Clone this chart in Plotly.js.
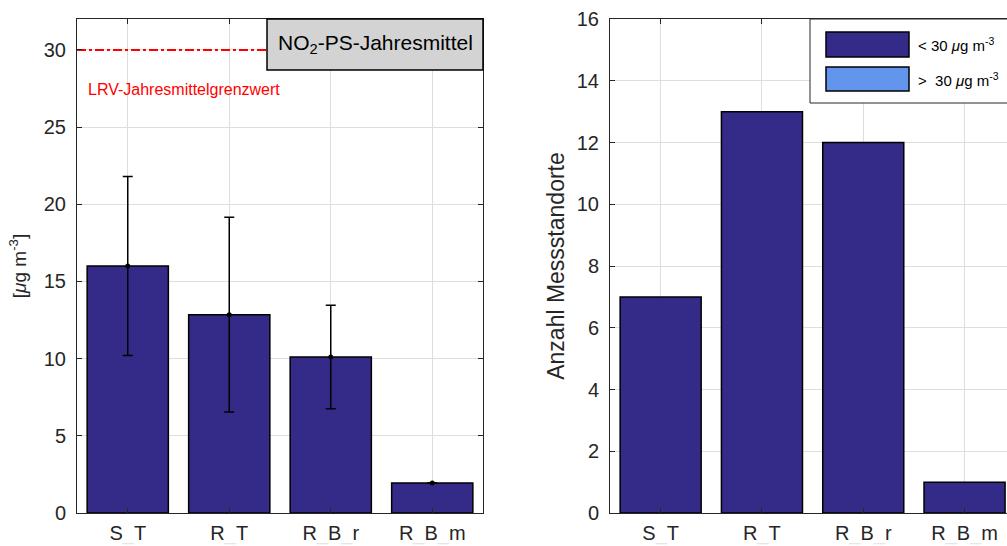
<!DOCTYPE html>
<html>
<head>
<meta charset="utf-8">
<script src="https://cdn.plot.ly/plotly-3.0.1.min.js"></script>
<style>html,body{margin:0;padding:0;background:#fff;}#chart{width:1007px;height:546px;}</style>
</head>
<body>
<div id="chart"></div>
<script>
// ---- data ----
const categories = ["S_T", "R_T", "R_B_r", "R_B_m"];
const meanValues = [16.0, 12.85, 10.1, 1.95];
const stdValues = [5.8, 6.3, 3.35, 0.0];
const countBelow = [7, 13, 12, 1];
const countAbove = [0, 0, 0, 0];
const limitValue = 30;
const seriesNames = ["< 30 <i>μ</i>g m<sup>-3</sup>", ">  30 <i>μ</i>g m<sup>-3</sup>"];
const leftTitle = "NO<sub>2</sub>-PS-Jahresmittel";
const limitLabel = "LRV-Jahresmittelgrenzwert";
const leftYTitle = "[<i>μ</i>g m<sup>-3</sup>]";
const rightYTitle = "Anzahl Messstandorte";

const pos = categories.map((c, i) => i + 1);
const tickText = categories.map(c => c.split("_").join("<span style='color:#e6e6e6'>_</span>"));

const darkBar = "#342a87";
const lightBar = "#6495ed";
const axisCol = "#262626";
const gridCol = "#dedede";
const FONT = "Arial, 'Liberation Sans', Helvetica, sans-serif";

const traces = [
  {type: "bar", x: pos, y: meanValues, width: 0.8, xaxis: "x", yaxis: "y",
   marker: {color: darkBar, line: {color: "#000", width: 1.5}}, showlegend: false, hoverinfo: "none"},
  {type: "scatter", mode: "markers", x: pos, y: meanValues, xaxis: "x", yaxis: "y",
   marker: {color: "#000", size: 5},
   error_y: {type: "data", array: stdValues, visible: true, color: "#000", thickness: 1.5, width: 5},
   showlegend: false, hoverinfo: "none"},
  {type: "scatter", mode: "lines", x: [0.5, 4.5], y: [limitValue, limitValue], xaxis: "x", yaxis: "y",
   line: {color: "#ff0000", width: 2, dash: "dashdot"}, showlegend: false, hoverinfo: "none"},
  {type: "bar", x: pos, y: countBelow, width: 0.8, xaxis: "x2", yaxis: "y2", name: seriesNames[0],
   marker: {color: darkBar, line: {color: "#000", width: 1.5}}, showlegend: false, hoverinfo: "none"},
  {type: "bar", x: pos, y: countAbove, width: 0.8, xaxis: "x2", yaxis: "y2", name: seriesNames[1],
   marker: {color: lightBar, line: {color: "#000", width: 0}}, showlegend: false, hoverinfo: "none"}
];

const xCommon = {
  tickvals: pos, ticktext: tickText, ticks: "inside", ticklen: 5, tickcolor: axisCol,
  showline: true, linecolor: axisCol, linewidth: 1, mirror: "ticks",
  showgrid: true, gridcolor: gridCol, gridwidth: 1, zeroline: false,
  tickfont: {family: FONT, size: 20, color: axisCol}, ticklabelstandoff: 2, fixedrange: true
};
const yCommon = {
  ticks: "inside", ticklen: 5, tickcolor: axisCol, showline: true, linecolor: axisCol, linewidth: 1,
  showgrid: true, gridcolor: gridCol, gridwidth: 1, zeroline: false,
  tickfont: {family: FONT, size: 20, color: axisCol}, ticklabelstandoff: 6, fixedrange: true
};

const L = {x0: 77/1007, x1: 483/1007};
const R = {x0: 610/1007, x1: 1.0};
const yDom = [1 - 513/546, 1 - 19/546];
const px = v => v/1007, py = v => 1 - v/546;

const layout = {
  width: 1007, height: 546, margin: {l: 0, r: 0, t: 0, b: 0},
  paper_bgcolor: "#fff", plot_bgcolor: "#fff", barmode: "overlay",
  font: {family: FONT, color: axisCol},
  xaxis: Object.assign({}, xCommon, {domain: [L.x0, L.x1], range: [0.5, 4.5], anchor: "y"}),
  yaxis: Object.assign({}, yCommon, {domain: yDom, range: [0, 32], dtick: 5, tick0: 0, mirror: "ticks", anchor: "x",
    title: {text: leftYTitle, font: {family: FONT, size: 19, color: axisCol}, standoff: 12}}),
  xaxis2: Object.assign({}, xCommon, {domain: [R.x0, R.x1], range: [0.5, 0.5 + 397/101.3], anchor: "y2"}),
  yaxis2: Object.assign({}, yCommon, {domain: yDom, range: [0, 16], dtick: 2, tick0: 0, mirror: false, anchor: "x2",
    title: {text: rightYTitle, font: {family: FONT, size: 23, color: axisCol}, standoff: 5}}),
  shapes: [
    {type: "rect", xref: "paper", yref: "paper", x0: px(267), x1: px(483), y0: py(70), y1: py(19),
     fillcolor: "#d3d3d3", line: {color: "#000", width: 1.5}, layer: "above"},
    {type: "rect", xref: "paper", yref: "paper", x0: px(810), x1: px(1020), y0: py(103), y1: py(19),
     fillcolor: "#fff", line: {color: axisCol, width: 1}, layer: "above"},
    {type: "rect", xref: "paper", yref: "paper", x0: px(826), x1: px(909), y0: py(57), y1: py(32),
     fillcolor: darkBar, line: {color: "#000", width: 1.5}, layer: "above"},
    {type: "rect", xref: "paper", yref: "paper", x0: px(826), x1: px(909), y0: py(91), y1: py(67),
     fillcolor: lightBar, line: {color: "#000", width: 1.5}, layer: "above"}
  ],
  annotations: [
    {xref: "paper", yref: "paper", x: px(375), y: py(44), text: leftTitle, showarrow: false,
     xanchor: "center", yanchor: "middle", font: {family: FONT, size: 21, color: "#000"}},
    {xref: "paper", yref: "paper", x: px(86), y: py(90), text: limitLabel, showarrow: false,
     xanchor: "left", yanchor: "middle", font: {family: FONT, size: 16, color: "#ff0000"}},
    {xref: "paper", yref: "paper", x: px(916), y: py(44), text: seriesNames[0], showarrow: false,
     xanchor: "left", yanchor: "middle", font: {family: FONT, size: 15, color: "#000"}},
    {xref: "paper", yref: "paper", x: px(916), y: py(79), text: seriesNames[1], showarrow: false,
     xanchor: "left", yanchor: "middle", font: {family: FONT, size: 15, color: "#000"}}
  ]
};

Plotly.newPlot("chart", traces, layout, {staticPlot: true, displayModeBar: false});
</script>
</body>
</html>
